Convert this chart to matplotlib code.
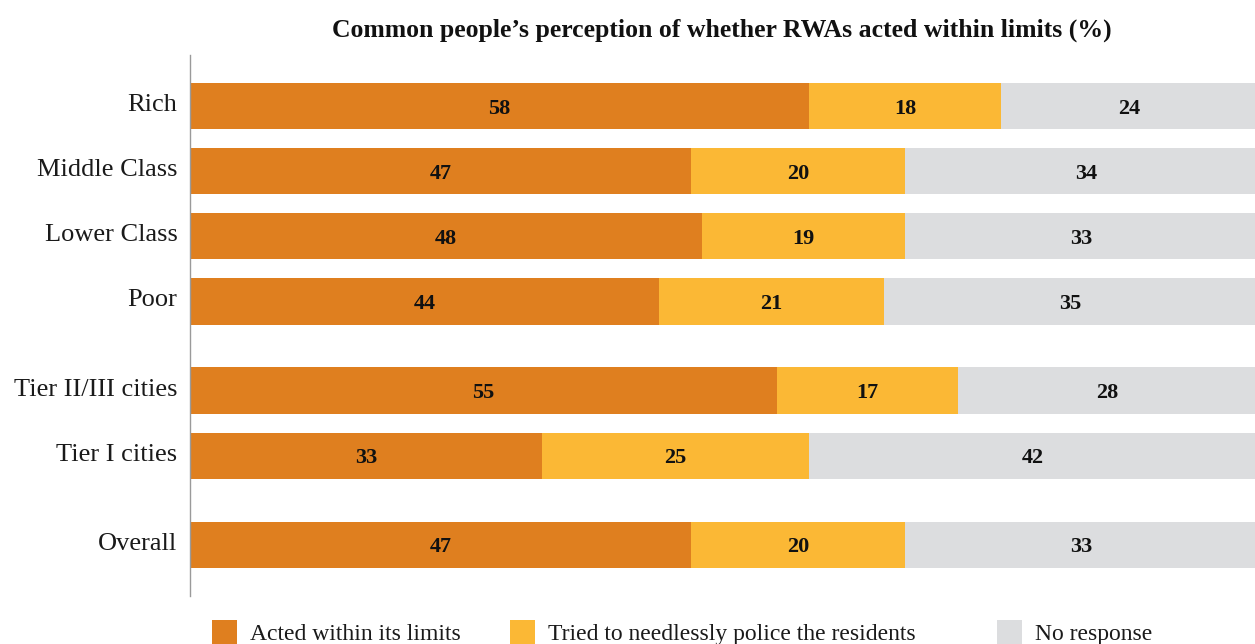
import matplotlib.pyplot as plt
import numpy as np
from matplotlib.patches import Rectangle
from matplotlib.transforms import ScaledTranslation

plt.rcParams["font.family"] = ["Liberation Serif", "DejaVu Serif"]

categories = ["Rich", "Middle Class", "Lower Class", "Poor", "Tier II/III cities", "Tier I cities", "Overall"]
acted = [58, 47, 48, 44, 55, 33, 47]
policed = [18, 20, 19, 21, 17, 25, 20]
no_response = [24, 34, 33, 35, 28, 42, 33]
series_labels = ["Acted within its limits", "Tried to needlessly police the residents", "No response"]

COLORS = ["#DF7F1F", "#FBB835", "#DCDDDF"]
GROUP_GAP = 0.37
# rows 0-3 are income groups, 4-5 cities, 6 overall
group_of_row = [0, 0, 0, 0, 1, 1, 2]

W, H = 1255, 644
fig = plt.figure(figsize=(W / 100, H / 100), dpi=100)
ax = fig.add_axes([190 / W, 1 - 596 / H, 1067 / W, 541 / H])

y_pos = np.arange(len(categories)) + np.array(group_of_row) * GROUP_GAP
bar_h = 0.71

left = np.zeros(len(categories))
for vals, color in zip([acted, policed, no_response], COLORS):
    bars = ax.barh(y_pos, vals, left=left, height=bar_h, color=color, linewidth=0)
    for bar, v in zip(bars, vals):
        ax.text(bar.get_x() + bar.get_width() / 2, bar.get_y() + bar.get_height() / 2, str(v),
                ha="center", va="center_baseline", fontsize=16, fontweight="bold", color="#111111")
    left += np.array(vals)

ax.set_xlim(0, 100)
ax.set_ylim(y_pos[-1] + 0.785, y_pos[0] - 0.785)
ax.set_xticks([])
ax.set_yticks(y_pos)
ax.set_yticklabels(categories, fontsize=19, color="#1a1a1a")
ax.tick_params(axis="y", length=0, pad=9)
# sit the row labels a little above the bar middle
shift = ScaledTranslation(0, -0.05, fig.dpi_scale_trans)
for lbl in ax.get_yticklabels():
    lbl.set_verticalalignment("baseline")
    lbl.set_transform(lbl.get_transform() + shift)
for side in ["top", "right", "bottom"]:
    ax.spines[side].set_visible(False)
ax.spines["left"].set_color("#9a9a9a")
ax.spines["left"].set_linewidth(1.0)

fig.text(722 / W, 1 - 30 / H, "Common people\u2019s perception of whether RWAs acted within limits (%)",
         ha="center", va="center", fontsize=18.5, fontweight="bold", color="#111111")

# legend along the bottom edge
legend_x = [212, 510, 997]
for x, color, label in zip(legend_x, COLORS, series_labels):
    fig.patches.append(Rectangle((x / W, 0), 25 / W, 24 / H, transform=fig.transFigure,
                                 facecolor=color, edgecolor="none"))
    fig.text((x + 38) / W, 1 - 640 / H, label, ha="left", va="baseline", fontsize=17, color="#1a1a1a")

fig.savefig("out.png", dpi=100)
